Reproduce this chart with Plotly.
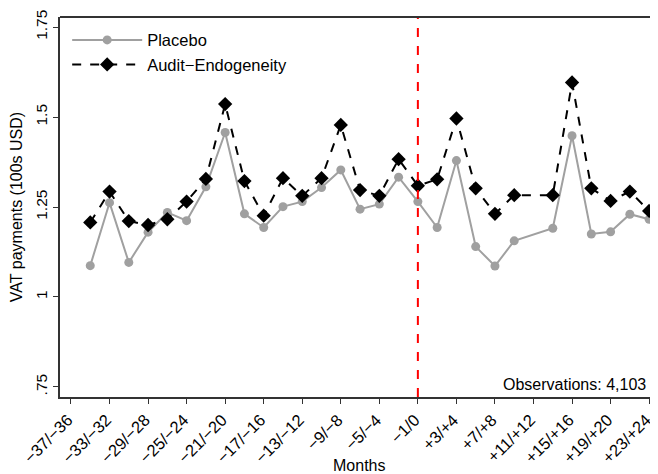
import plotly.graph_objects as go

# Month bins (index 0..30) and tick labels
bin_labels = ["−37/−36", "−35/−34", "−33/−32", "−31/−30", "−29/−28", "−27/−26", "−25/−24",
              "−23/−22", "−21/−20", "−19/−18", "−17/−16", "−15/−14", "−13/−12", "−11/−10",
              "−9/−8", "−7/−6", "−5/−4", "−3/−2", "−1/0", "+1/+2", "+3/+4", "+5/+6", "+7/+8",
              "+9/+10", "+11/+12", "+13/+14", "+15/+16", "+17/+18", "+19/+20", "+21/+22", "+23/+24"]
tick_labels = ["−37/−36", "−33/−32", "−29/−28", "−25/−24", "−21/−20", "−17/−16", "−13/−12",
               "−9/−8", "−5/−4", "−1/0", "+3/+4", "+7/+8", "+11/+12", "+15/+16", "+19/+20", "+23/+24"]

# Values per bin (None = no observation)
placebo = [None, 1.087, 1.262, 1.096, 1.180, 1.235, 1.212, 1.306, 1.457, 1.231, 1.193,
           1.251, 1.265, 1.304, 1.353, 1.244, 1.258, 1.333, 1.265, 1.193, 1.379, 1.140,
           1.086, 1.156, None, 1.191, 1.448, 1.175, 1.181, 1.230, 1.216]
audit = [None, 1.207, 1.293, 1.211, 1.200, 1.216, 1.265, 1.328, 1.536, 1.322, 1.226,
         1.330, 1.281, 1.330, 1.478, 1.297, 1.281, 1.383, 1.309, 1.327, 1.496, 1.302,
         1.231, 1.283, None, 1.283, 1.596, 1.302, 1.267, 1.293, 1.239]

y_tickvals = [0.75, 1.0, 1.25, 1.5, 1.75]
y_ticktext = [".75", "1", "1.25", "1.5", "1.75"]

x_idx = list(range(len(bin_labels)))
tick_idx = [bin_labels.index(t) for t in tick_labels]
event_idx = bin_labels.index("−1/0")

font = "Liberation Sans, Arial, sans-serif"

fig = go.Figure()
fig.add_trace(go.Scatter(
    x=x_idx, y=placebo, name="Placebo", mode="lines+markers", connectgaps=True,
    line=dict(color="#a0a0a0", width=2),
    marker=dict(symbol="circle", size=9, color="#a0a0a0"),
))
fig.add_trace(go.Scatter(
    x=x_idx, y=audit, name="Audit−Endogeneity", mode="lines+markers", connectgaps=True,
    line=dict(color="black", width=2, dash="dash"),
    marker=dict(symbol="diamond", size=11, color="black"),
))

fig.add_shape(type="line", x0=event_idx, x1=event_idx, xref="x", y0=0, y1=1, yref="paper",
              line=dict(color="red", width=2, dash="dash"))

fig.add_annotation(text="Observations: 4,103", xref="paper", yref="paper", x=0.983, y=0.006,
                   xanchor="right", yanchor="bottom", showarrow=False,
                   font=dict(family=font, size=16, color="black"))
fig.add_annotation(text="Months", xref="paper", yref="paper", x=0.5, y=-0.179,
                   xanchor="center", yanchor="middle", showarrow=False,
                   font=dict(family=font, size=16, color="black"))

# The page body has an 8px margin, so the figure is sized/margined to compensate.
fig.update_layout(
    width=650, height=466,
    margin=dict(l=52, r=0, t=9, b=77, pad=0),
    paper_bgcolor="white", plot_bgcolor="white",
    font=dict(family=font, size=16, color="black"),
    showlegend=True,
    legend=dict(x=0.012, y=0.985, xanchor="left", yanchor="top", bgcolor="rgba(0,0,0,0)",
                font=dict(size=16.5), itemwidth=70, tracegroupgap=0),
    xaxis=dict(range=[-0.57, 30.46], tickvals=tick_idx, ticktext=tick_labels, tickangle=-45,
               tickfont=dict(size=16.5), ticklabelshift=-3,
               showgrid=False, zeroline=False, showline=True, linecolor="#333", linewidth=2,
               ticks="outside", ticklen=5, tickcolor="#333", mirror=False),
    yaxis=dict(range=[0.722, 1.778], tickvals=y_tickvals, ticktext=y_ticktext, tickangle=-90,
               tickfont=dict(size=15.5),
               showgrid=False, zeroline=False, showline=True, linecolor="#333", linewidth=2,
               ticks="outside", ticklen=5, tickcolor="#333",
               title=dict(text="VAT payments (100s USD)", font=dict(size=16), standoff=6)),
)
# top border line
fig.add_shape(type="line", xref="paper", yref="paper", x0=0, x1=1, y0=1, y1=1,
              line=dict(color="#333", width=2))

fig.write_html("out.html")
